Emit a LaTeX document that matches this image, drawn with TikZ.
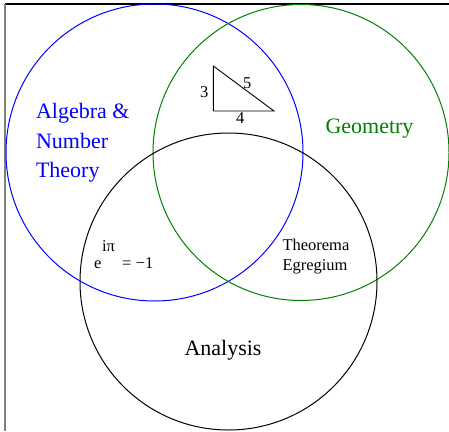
\documentclass[tikz,border=0pt]{standalone}
\usepackage{fontspec}
\setmainfont{Liberation Serif}
\definecolor{vblue}{RGB}{0,0,255}
\definecolor{vgreen}{RGB}{0,128,0}
\tikzset{
  ring/.style={line width=1pt},
  lbl/.style={anchor=base west, inner sep=0pt, outer sep=0pt},
  big/.style={font=\fontsize{22}{26}\selectfont},
  small/.style={font=\fontsize{16.5}{19}\selectfont},
}
\begin{document}
\begin{tikzpicture}[x=1pt,y=-1pt]
\useasboundingbox (0,0) rectangle (449,431);
% frame
\draw[line width=1.2pt] (5,4) -- (449,4);
\draw[line width=1.2pt, gray] (5,4) -- (5,431);
% circles
\coordinate (cb) at (154.5,152.5);
\coordinate (cg) at (301,152.5);
\coordinate (ca) at (228.5,281.5);
\draw[ring, vblue] (cb) circle (148.5);
\draw[ring, vgreen] (cg) circle (148);
\draw[ring, black] (ca) circle (148.5);
% labels
\node[lbl, big, text=vblue] (alg1) at (36,118.3) {Algebra \&};
\node[lbl, big, text=vblue] (alg2) at (36,148) {Number};
\node[lbl, big, text=vblue] (alg3) at (36,177) {Theory};
\node[lbl, big, text=vgreen] (geo) at (325.5,133.3) {Geometry};
\node[lbl, big] (ana) at (184.5,355) {Analysis};
\node[lbl, small] (th1) at (282.5,250) {Theorema};
\node[lbl, small] (th2) at (282.5,270) {Egregium};
% Euler
\node[lbl, small] (e) at (94,268.3) {e};
\node[lbl, small] (ipi) at (102,251.7) {iπ};
\node[lbl, small] (eq) at (122,268.3) {=\hspace{4.5pt}−1};
% triangle
\coordinate (t1) at (213.3,66);
\coordinate (t2) at (213.3,111);
\coordinate (t3) at (274,111);
\draw[line width=0.9pt] (t1) -- (t2) -- (t3) -- cycle;
\node[lbl, small] (s3) at (200,97) {3};
\node[lbl, small] (s5) at (243,88) {5};
\node[lbl, small] (s4) at (236,123) {4};
\end{tikzpicture}
\end{document}
